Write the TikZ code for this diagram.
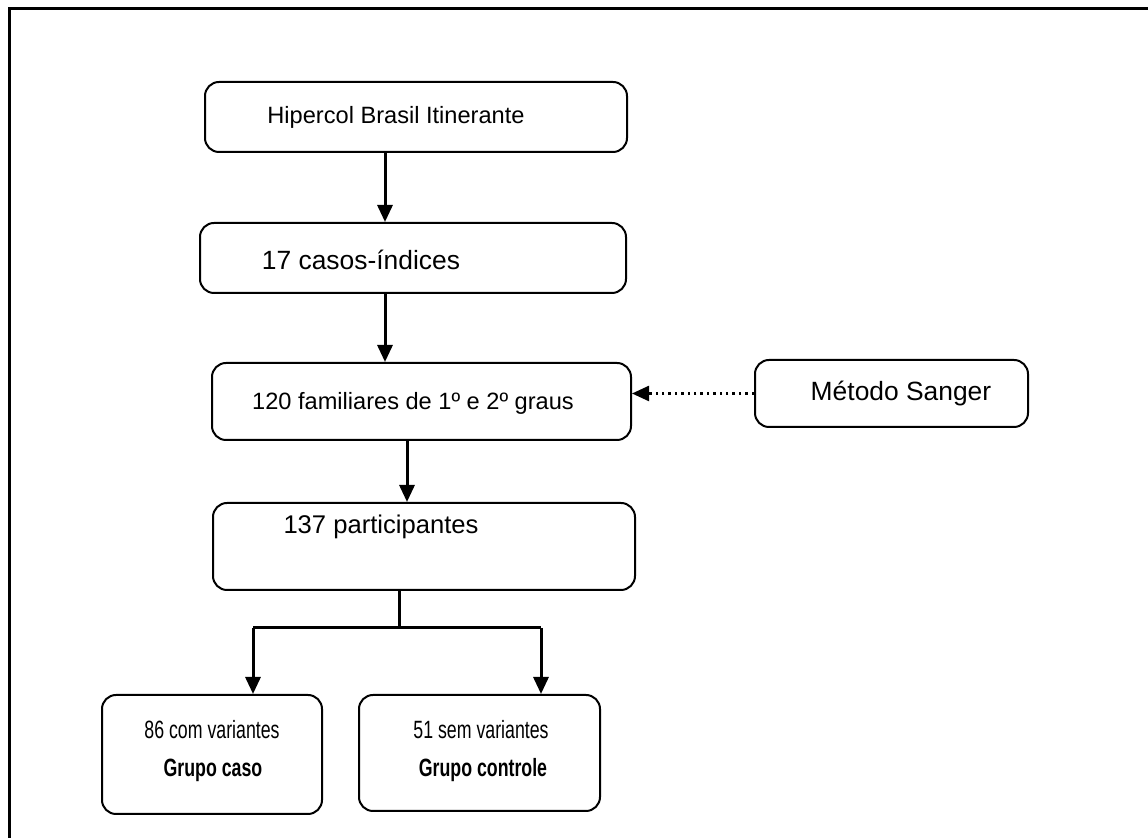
\documentclass[tikz,border=0pt]{standalone}
\usepackage{fontspec}
\setmainfont{Liberation Sans}
\usetikzlibrary{arrows.meta}

\newcommand{\narrowtxt}[1]{\scalebox{0.71}[1]{#1}}

\tikzset{
  box/.style={draw=black, rounded corners=7pt, line width=1pt, inner sep=0pt},
  arr/.style={line width=1.5pt, -{Triangle[length=8.5pt,width=7.5pt]}},
  dotarr/.style={line width=1.2pt, dotted, -{Triangle[length=8.5pt,width=7.5pt]}},
  txt/.style={inner sep=0pt, font=\fontsize{11.8}{14}\selectfont},
  big/.style={inner sep=0pt, font=\fontsize{13.2}{16}\selectfont},
  small/.style={inner sep=0pt, font=\fontsize{12.5}{15}\selectfont}
}

\begin{document}
\begin{tikzpicture}[x=0.5pt,y=-0.5pt]
  \useasboundingbox (0,0) rectangle (1148,838);
  \clip (0,0) rectangle (1148,838);
  \draw[line width=1.5pt] (9,900) -- (9,9) -- (1200,9);

    \node[box,minimum width=211pt,minimum height=35pt] (hip) at (416,117) {};
    \node[box,minimum width=213pt,minimum height=35pt] (cas) at (413,258) {};
    \node[box,minimum width=209.5pt,minimum height=38.5pt] (fam) at (421.5,401.5) {};
    \node[box,minimum width=136.5pt,minimum height=33.5pt] (san) at (891.5,393.5) {};
    \node[box,minimum width=211pt,minimum height=43.5pt] (par) at (424,546.5) {};
    \node[box,minimum width=110pt,minimum height=59.5pt] (com) at (212,754.5) {};
    \node[box,minimum width=120.5pt,minimum height=58pt] (sem) at (479.5,753) {};

    \node[txt] (hiptxt) at (396,117) {Hipercol Brasil Itinerante};
    \node[big] (castxt) at (361,260) {17 casos-índices};
    \node[txt] (famtxt) at (413,403) {120 familiares de 1º e 2º graus};
    \node[big] (santxt) at (901,394) {Método Sanger};
    \node[txt,font=\fontsize{12.8}{15}\selectfont] (partxt) at (381,527) {137 participantes};
    \node[small] (comtxt) at (212,730) {\narrowtxt{86 com variantes}};
    \node[small] (comgrp) at (213,770) {\narrowtxt{\bfseries Grupo caso}};
    \node[small] (semtxt) at (481,730) {\narrowtxt{51 sem variantes}};
    \node[small] (semgrp) at (483,770) {\narrowtxt{\bfseries Grupo controle}};

    \coordinate (split) at (399,628);
    \coordinate (bl) at (253,628);
    \coordinate (br) at (541,628);

    \draw[arr] (385,0 |- hip.south) -- (385,0 |- cas.north);
    \draw[arr] (385,0 |- cas.south) -- (385,0 |- fam.north);
    \draw[arr] (407,0 |- fam.south) -- (407,0 |- par.north);
    \draw[dotarr] (san.west) -- (fam.east |- san.west);
    \draw[line width=1.5pt] (split |- par.south) -- (split);
    \draw[line width=1.5pt] (bl) -- (br);
    \draw[arr] (bl) -- (bl |- com.north);
    \draw[arr] (br) -- (br |- sem.north);

\end{tikzpicture}
\end{document}
